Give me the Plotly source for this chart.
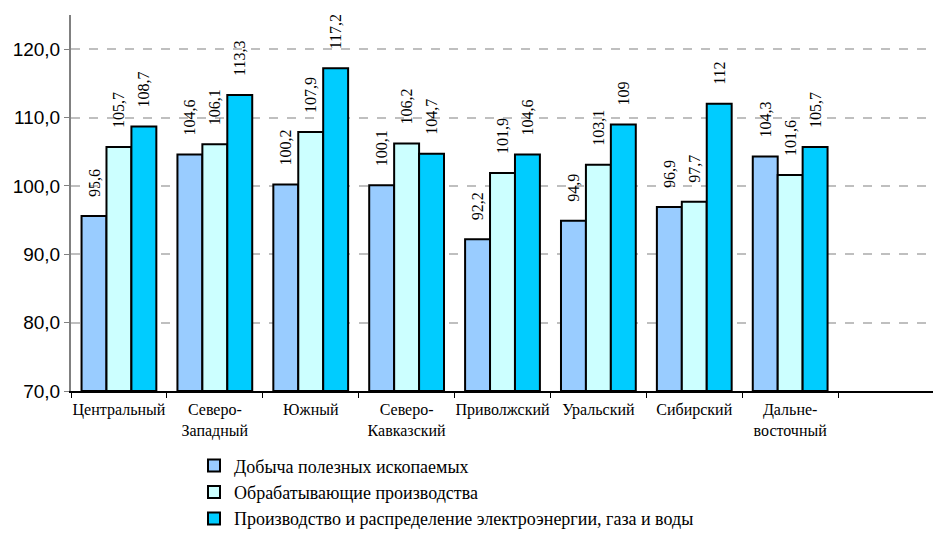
import plotly.graph_objects as go

SERIF = "Liberation Serif"
SANS = "Liberation Sans"

# Categories (last slot left empty like in the original)
regions = ["Центральный", "Северо-<br>Западный", "Южный", "Северо-<br>Кавказский",
           "Приволжский", "Уральский", "Сибирский", "Дальне-<br>восточный", " "]

mining = [95.6, 104.6, 100.2, 100.1, 92.2, 94.9, 96.9, 104.3]
manufacturing = [105.7, 106.1, 107.9, 106.2, 101.9, 103.1, 97.7, 101.6]
energy = [108.7, 113.3, 117.2, 104.7, 104.6, 109.0, 112.0, 105.7]

mining_lbl = ["95,6", "104,6", "100,2", "100,1", "92,2", "94,9", "96,9", "104,3"]
manufacturing_lbl = ["105,7", "106,1", "107,9", "106,2", "101,9", "103,1", "97,7", "101,6"]
energy_lbl = ["108,7", "113,3", "117,2", "104,7", "104,6", "109", "112", "105,7"]

series = [
    ("Добыча полезных ископаемых", mining, mining_lbl, "#99CCFF"),
    ("Обрабатывающие производства", manufacturing, manufacturing_lbl, "#CCFFFF"),
    ("Производство и распределение электроэнергии, газа и воды", energy, energy_lbl, "#00CCFF"),
]

BASE = 70
GAP = "\u00a0" * 4  # leaves some room between bar top and rotated label

fig = go.Figure()
for name, vals, lbls, color in series:
    fig.add_trace(go.Bar(
        x=regions[:len(vals)],
        y=[v - BASE for v in vals],
        base=BASE,
        name=name,
        text=[GAP + t for t in lbls],
        textposition="outside",
        textangle=-90,
        constraintext="none",
        textfont=dict(family=SERIF, size=16, color="black"),
        marker=dict(color=color, line=dict(color="black", width=2)),
        cliponaxis=False,
    ))

# the page body has an 8px margin, so the figure is sized/margined to compensate
fig.update_layout(
    barmode="group",
    bargap=0.22,
    bargroupgap=0,
    width=933,
    height=526,
    margin=dict(l=63, r=7, t=7, b=143, autoexpand=False),
    plot_bgcolor="white",
    paper_bgcolor="white",
    separators=", ",
    legend=dict(
        orientation="v",
        x=0.1425, xanchor="left",
        y=-0.15, yanchor="top",
        font=dict(family=SERIF, size=18, color="black"),
        itemwidth=30,
    ),
)

fig.update_xaxes(
    categoryorder="array",
    categoryarray=regions,
    range=[-0.5, 8.5],
    tickson="boundaries",
    ticks="outside",
    ticklen=5,
    tickcolor="black",
    tickangle=0,
    showline=True,
    linecolor="black",
    linewidth=2,
    automargin=False,
    ticklabelstandoff=3,
    tickfont=dict(family=SERIF, size=16, color="black"),
)

fig.update_yaxes(
    range=[70, 125],
    tickvals=[70, 80, 90, 100, 110, 120],
    tickformat=".1f",
    showgrid=True,
    gridcolor="#BFBFBF",
    gridwidth=2,
    griddash="dash",
    showline=True,
    linecolor="#808080",
    linewidth=2,
    ticks="outside",
    ticklen=5,
    tickcolor="#808080",
    zeroline=False,
    automargin=False,
    tickfont=dict(family=SANS, size=19, color="black"),
)

fig.write_html("out.html")
